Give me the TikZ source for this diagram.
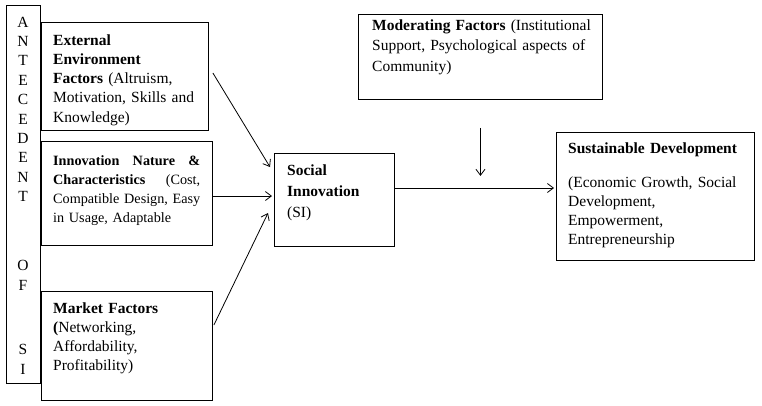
\documentclass[tikz,border=0pt]{standalone}
\usepackage{fontspec}
\setmainfont{Liberation Serif}
\usetikzlibrary{arrows.meta,calc}
\begin{document}
\begin{tikzpicture}[x=1pt,y=-1pt,
  box/.style={draw,line width=0.9pt,inner sep=0pt,anchor=north west},
  txt/.style={anchor=base west,inner sep=0pt,align=left,font=\fontsize{15.5}{19.3}\selectfont},
  letter/.style={inner sep=0pt,font=\fontsize{15.5}{19.3}\selectfont},
  arr/.style={-{Straight Barb[length=6pt,width=9pt]},line width=0.8pt}]
\useasboundingbox (0,0) rectangle (762,405);
% boxes
\node[box,minimum width=34pt,minimum height=378pt] (ante) at (6,5) {};
\node[box,minimum width=167pt,minimum height=108pt] (ext) at (41,22) {};
\node[box,minimum width=171pt,minimum height=104pt] (inn) at (41,141) {};
\node[box,minimum width=171pt,minimum height=109pt] (mkt) at (41,291) {};
\node[box,minimum width=120pt,minimum height=93pt] (si) at (274,153) {};
\node[box,minimum width=244pt,minimum height=85pt] (mod) at (358,14) {};
\node[box,minimum width=198pt,minimum height=128pt] (sd) at (556,132) {};
% antecedent letters
\foreach \l/\y [count=\i] in {A/22,N/41.4,T/60.8,E/80.2,C/99.6,E/119,D/138.4,E/157.8,N/177.2,T/196.6,O/265,F/285,S/349,I/369}
  \node[letter] (L\i) at (23,\y) {\l};
% texts
\node[txt,text width=145pt] (extt) at (53,45) {\textbf{External}\\ \textbf{Environment}\\ \textbf{Factors} (Altruism,\\ Motivation, Skills and\\ Knowledge)};
\node[txt,text width=155pt,font=\fontsize{14.2}{19.3}\selectfont] (innt) at (53,165) {\makebox[147pt][l]{\textbf{Innovation}\hfill\textbf{Nature}\hfill\textbf{\&}}\\ \makebox[147pt][l]{\textbf{Characteristics}\hfill(Cost,}\\ Compatible Design, Easy\\ in Usage, Adaptable};
\node[txt,text width=150pt] (mktt) at (53,313) {\textbf{Market Factors}\\ \textbf{(}Networking,\\ Affordability,\\ Profitability)};
\node[txt,text width=100pt,font=\fontsize{15.5}{21}\selectfont] (sit) at (287,175) {\textbf{Social}\\ \textbf{Innovation}\\ (SI)};
\node[txt,text width=230pt,font=\fontsize{15.5}{20.5}\selectfont] (modt) at (372,30) {\textbf{Moderating Factors} (Institutional\\ Support, Psychological aspects of\\ Community)};
\node[txt,text width=180pt] (sdt) at (568,153) {\textbf{Sustainable Development}};
\node[txt,text width=180pt] (sdt2) at (568,187) {(Economic Growth, Social\\ Development,\\ Empowerment,\\ Entrepreneurship};
% connectors
\draw[arr] ($(ext.north east)+(4,51)$) -- ($(si.north west)+(-4,14)$);
\draw[arr] ($(inn.north east)+(0,55)$) -- ($(si.north west)+(-2,43)$);
\draw[arr] ($(mkt.north east)+(1,34)$) -- ($(si.north west)+(-6,60)$);
\draw[arr] ($(si.north east)+(0,35)$) -- ($(sd.north west)+(-2,56)$);
\coordinate (modfrom) at ($(mod.south)+(0,28)$);
\coordinate (modto) at ($(mod.south)+(0,76)$);
\draw[arr] (modfrom) -- (modto);
\end{tikzpicture}
\end{document}
